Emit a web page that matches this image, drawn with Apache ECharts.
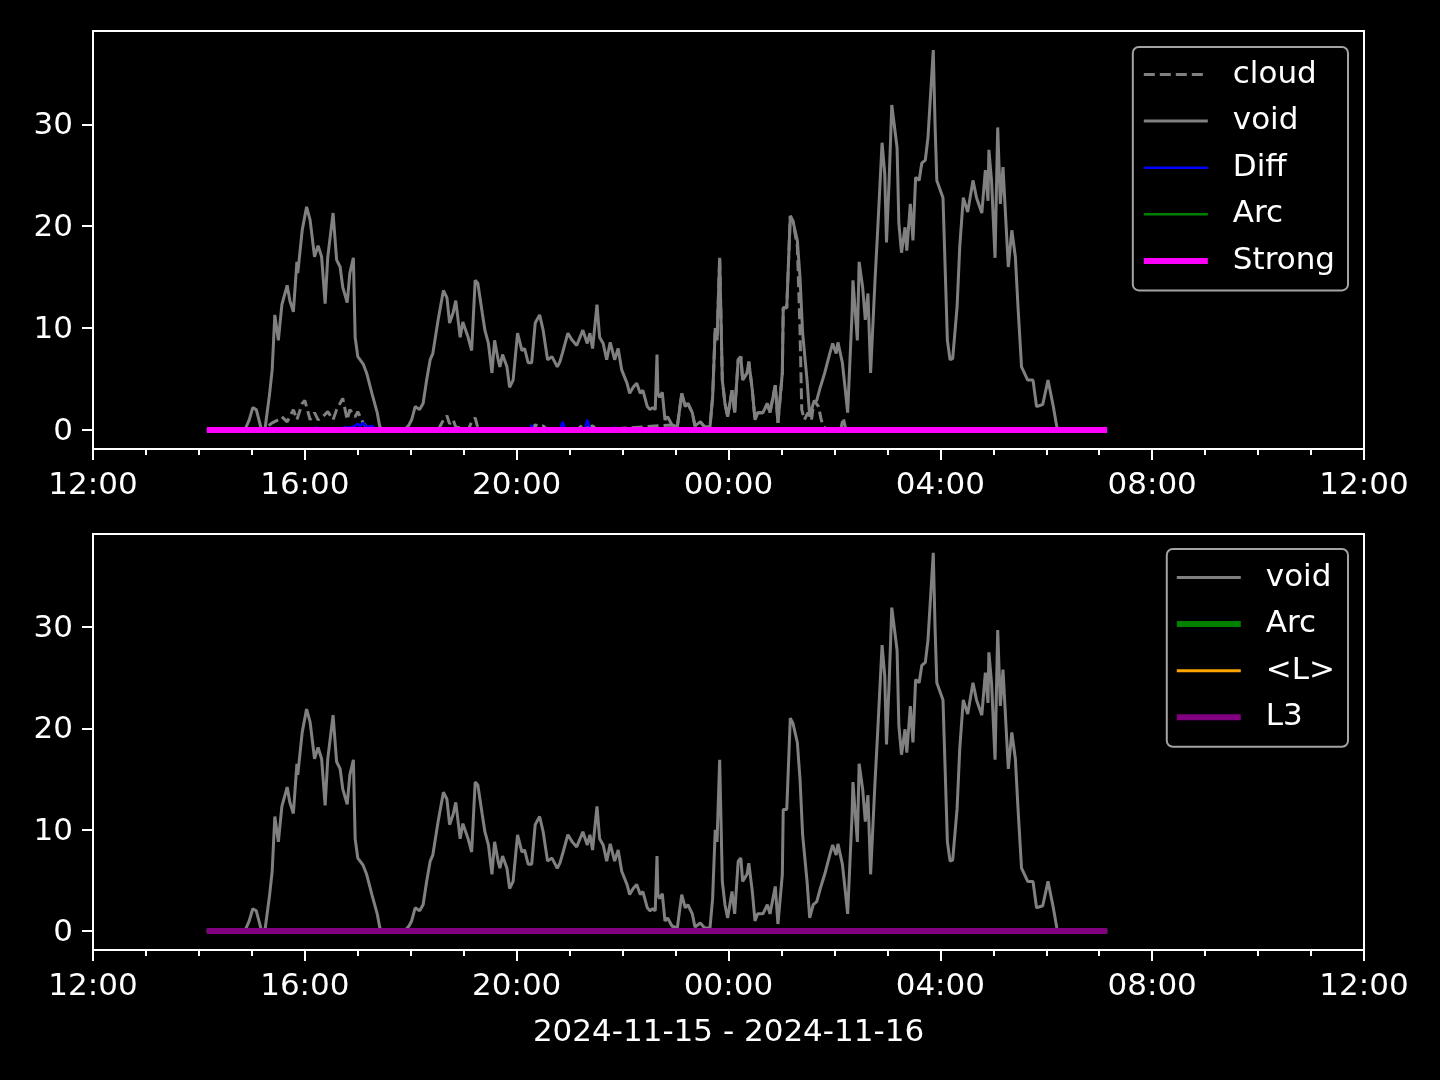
<!DOCTYPE html>
<html><head><meta charset="utf-8">
<script src="https://cdn.jsdelivr.net/npm/echarts@6/dist/echarts.min.js"></script>
<style>html,body{margin:0;padding:0;background:#000}#c{width:1440px;height:1080px}</style>
</head><body><div id="c"></div>
<script>
// ---- data (times are HH:MM; 12:00-23:59 -> 2024-11-15, 00:00-11:59 -> 2024-11-16, UTC) ----
const voidTimes = ['14:09','14:52','14:57','15:01','15:05','15:08','15:11','15:15','15:20','15:23','15:26','15:30','15:34','15:40','15:43','15:47','15:51','15:52','15:57','16:02','16:06','16:11','16:15','16:19','16:23','16:26','16:32','16:36','16:40','16:43','16:48','16:51','16:55','16:57','17:00','17:06','17:10','17:16','17:22','17:25','17:29','17:53','17:58','18:01','18:05','18:10','18:14','18:18','18:22','18:25','18:31','18:37','18:41','18:44','18:48','18:51','18:56','18:59','19:05','19:09','19:13','19:16','19:21','19:24','19:28','19:32','19:35','19:39','19:41','19:44','19:49','19:52','19:56','20:01','20:06','20:09','20:13','20:17','20:21','20:26','20:30','20:35','20:40','20:46','20:49','20:52','20:58','21:03','21:08','21:15','21:20','21:23','21:26','21:31','21:34','21:38','21:42','21:46','21:51','21:55','21:59','22:05','22:08','22:12','22:16','22:20','22:23','22:28','22:31','22:34','22:37','22:39','22:40','22:42','22:45','22:48','22:51','22:56','23:02','23:07','23:11','23:14','23:19','23:22','23:28','23:33','23:39','23:42','23:45','23:47','23:50','23:53','23:56','23:59','00:04','00:07','00:11','00:14','00:16','00:21','00:23','00:27','00:30','00:33','00:39','00:44','00:47','00:53','00:56','01:01','01:02','01:06','01:10','01:13','01:18','01:21','01:24','01:29','01:32','01:36','01:40','01:44','01:49','01:55','01:58','02:02','02:04','02:09','02:12','02:15','02:20','02:21','02:26','02:28','02:32','02:35','02:38','02:41','02:46','02:49','02:54','02:57','02:59','03:02','03:05','03:11','03:13','03:16','03:20','03:22','03:26','03:29','03:32','03:36','03:39','03:43','03:46','03:49','03:52','03:54','03:56','04:03','04:08','04:11','04:14','04:19','04:22','04:26','04:31','04:37','04:41','04:47','04:51','04:54','04:55','04:58','05:02','05:05','05:08','05:11','05:17','05:21','05:25','05:28','05:32','05:39','05:45','05:49','05:56','06:02','06:08','06:12','06:13'];
const voidValues = [0,0,1.0,2.2,2.0,1.0,0,0.2,3.5,5.9,11.3,8.8,12.3,14.2,12.7,11.6,16.5,15.4,19.6,21.9,20.6,17.0,18.1,17.0,12.4,17.0,21.3,16.7,16.0,14.0,12.5,15.4,16.9,9.1,7.2,6.5,5.6,3.6,1.7,0.3,0,0,0.5,1.0,2.3,2.0,2.6,4.9,6.9,7.5,10.8,13.7,13.0,10.5,11.5,12.7,9.1,10.6,9.1,7.8,14.7,14.4,11.5,9.8,8.5,5.6,8.8,6.9,6.2,7.4,6.2,4.2,4.9,9.5,7.8,8.0,6.6,6.6,10.5,11.3,9.8,6.9,7.2,6.2,6.7,7.6,9.5,8.8,8.3,9.8,8.5,9.5,8.0,12.3,9.1,8.5,6.9,8.6,6.9,8.0,5.9,4.6,3.6,4.2,4.6,3.6,3.9,2.3,2.0,2.2,2.0,7.4,3.6,3.2,3.7,1.0,1.3,0.5,0.3,3.6,2.3,2.6,1.7,0.4,0.8,0.3,0.3,3.2,10.0,8.8,16.9,4.9,2.6,1.3,3.9,1.7,6.9,7.2,4.9,5.6,6.7,3.9,1.0,1.7,1.7,2.6,1.7,4.4,0.7,5.6,12.0,12.0,21.0,20.5,18.6,15.0,9.5,4.9,1.3,2.6,2.9,4.2,5.6,7.6,8.5,7.5,8.6,6.6,4.2,1.7,11.5,14.7,8.8,16.5,14.0,10.8,13.4,5.6,14.7,19.6,28.2,25.2,18.4,24.5,31.9,27.7,20.3,17.4,19.9,17.6,22.2,18.6,24.8,24.5,26.2,26.5,28.7,33.0,37.3,30.0,24.5,22.8,8.8,6.9,7.0,12.1,18.0,22.8,21.4,24.5,22.8,21.3,25.5,22.5,27.5,24.5,16.9,29.7,22.2,25.8,16.0,19.6,17.0,12.1,6.2,4.9,4.9,2.3,2.5,4.9,2.3,0.3,0];

const cloudTimes = ['14:09','15:15','15:20','15:23','15:30','15:34','15:40','15:47','15:51','15:57','16:00','16:06','16:11','16:15','16:19','16:26','16:32','16:36','16:43','16:48','16:51','16:57','17:00','17:06','17:10','17:22','18:31','18:37','18:41','18:44','18:48','18:51','19:05','19:09','19:13','19:16','19:21','20:17','20:21','20:26','20:30','20:35','21:08','21:15','21:20','21:26','21:31','22:56','23:02','23:07','23:11','23:14','23:19','23:22','23:28','23:33','23:39','23:42','23:45','23:47','23:50','23:53','23:56','23:59','00:04','00:07','00:11','00:14','00:16','00:21','00:23','00:27','00:30','00:33','00:39','00:44','00:47','00:53','00:56','01:01','01:02','01:06','01:10','01:13','01:18','01:21','01:23','01:26','01:30','01:34','01:37','01:42','01:45','01:48','01:52','02:07','02:09','02:10','02:13','06:13'];
const cloudValues = [0,0,0.5,0.7,1.0,1.3,0.8,2.0,1.0,2.6,2.9,1.0,1.7,1.0,1.2,1.8,1.0,2.0,3.1,1.0,2.0,1.3,1.8,0.7,0.3,0,0,1.0,1.4,0.6,1.0,0.3,0,0.8,1.2,0.2,0,0,0.5,0.3,0.4,0,0,0.5,0.2,0.4,0,0.5,0.3,3.6,2.3,2.6,1.7,0.4,0.8,0.3,0.3,3.2,10.0,8.8,16.9,4.9,2.6,1.3,3.9,1.7,6.9,7.2,4.9,5.6,6.7,3.9,1.0,1.7,1.7,2.6,1.7,4.4,0.7,5.6,12.0,12.0,21.0,20.5,18.0,9.8,2.0,1.0,1.7,1.0,2.9,2.3,1.0,0.3,0,0,0.8,1.2,0,0];

const diffTimes = ['14:09','16:11','16:13','16:15','16:43','16:45','16:51','16:57','17:00','17:03','17:06','17:10','17:16','17:22','20:15','20:17','20:19','20:49','20:52','20:55','21:17','21:20','21:23','21:26','21:49','21:51','21:53','07:09'];
const diffValues = [0,0,0.3,0,0,0.3,0.2,0.4,0.6,0.4,0.7,0.3,0.4,0,0,0.5,0,0,0.8,0,0,1.0,0.2,0,0,0.3,0,0];

const flatTimes = ['14:09','07:09'];
const arcValues = [0,0];
const strongValues = [0,0];
const lMeanValues = [0,0];
const l3Values = [0,0];

const yTicks = [0,10,20,30];
const xTitle = '2024-11-15 - 2024-11-16';

// ---- helpers ----
function ts(hm){ const p = hm.split(':').map(Number); const day = p[0] < 12 ? 16 : 15; return Date.UTC(2024,10,day,p[0],p[1]||0); }
function pairs(times, vals){ return times.map((t,i)=>[ts(t), vals[i]]); }
const HOUR = 3600000;
const xMin = Date.UTC(2024,10,15,12,0), xMax = Date.UTC(2024,10,16,12,0);
const FONT = 'DejaVu Sans';
const FS = 31;
function hhmm(v){ const d = new Date(v); return String(d.getUTCHours()).padStart(2,'0') + ':' + String(d.getUTCMinutes()).padStart(2,'0'); }

function xAxisDef(gi, withName){
  return {
    type:'value', gridIndex:gi, min:xMin, max:xMax, interval:4*HOUR,
    axisLine:{show:true, onZero:false, lineStyle:{color:'#fff', width:2}},
    axisTick:{show:true, inside:false, length:11, lineStyle:{color:'#fff', width:2}},
    minorTick:{show:true, splitNumber:4, length:6, lineStyle:{color:'#fff', width:2}},
    axisLabel:{show:true, color:'#fff', fontFamily:FONT, fontSize:FS, margin:21, formatter:hhmm, showMinLabel:true, showMaxLabel:true},
    splitLine:{show:false}, minorSplitLine:{show:false},
    name: withName ? xTitle : '', nameLocation:'middle', nameGap:67,
    nameTextStyle:{color:'#fff', fontFamily:FONT, fontSize:FS}
  };
}
function yAxisDef(gi){
  return {
    type:'value', gridIndex:gi, min:-1.865, max:39.165,
    axisLine:{show:true, onZero:false, lineStyle:{color:'#fff', width:2}},
    axisTick:{show:true, inside:false, length:11, lineStyle:{color:'#fff', width:2}, customValues:yTicks},
    axisLabel:{show:true, color:'#fff', fontFamily:FONT, fontSize:FS, margin:20, customValues:yTicks,
      formatter: v => '{t|' + v + '}',
      rich:{t:{color:'#fff', fontFamily:FONT, fontSize:FS, padding:[4,0,0,0]}}},
    splitLine:{show:false}
  };
}
function line(name, xi, yi, data, color, width, type){
  return {name, type:'line', xAxisIndex:xi, yAxisIndex:yi, data, symbol:'none', showSymbol:false,
    lineStyle:{color, width, type:type||'solid'}, itemStyle:{color}, animation:false, silent:true, z:2};
}
const legendCommon = {
  orient:'vertical', backgroundColor:'rgba(0,0,0,0.8)', borderColor:'#a3a3a3', borderWidth:2, borderRadius:6,
  itemWidth:64, itemHeight:31, itemGap:15.6, selectedMode:false,
  textStyle:{color:'#fff', fontFamily:FONT, fontSize:FS, lineHeight:31, padding:[0,0,0,20]},
  lineStyle:{width:'inherit', type:'inherit'},
  itemStyle:{opacity:0, borderWidth:0},
  formatter: n => n.replace(/_2$/, '')
};

const option = {
  backgroundColor:'#000',
  animation:false,
  grid:[
    {left:93, top:31, width:1271, height:418, show:true, borderColor:'#fff', borderWidth:2, backgroundColor:'transparent'},
    {left:93, top:534, width:1271, height:416, show:true, borderColor:'#fff', borderWidth:2, backgroundColor:'transparent'}
  ],
  xAxis:[xAxisDef(0,false), xAxisDef(1,true)],
  yAxis:[yAxisDef(0), yAxisDef(1)],
  legend:[
    Object.assign({}, legendCommon, {right:92, top:47, padding:[12,13,14,8], data:['cloud','void','Diff','Arc','Strong']}),
    Object.assign({}, legendCommon, {right:92, top:549, padding:[13,13,14,7], data:['void_2','Arc_2','<L>_2','L3_2']})
  ],
  series:[
    line('cloud',0,0,pairs(cloudTimes,cloudValues),'#808080',3,[11,5]),
    line('void',0,0,pairs(voidTimes,voidValues),'#808080',3),
    line('Diff',0,0,pairs(diffTimes,diffValues),'#0000ff',2.5),
    line('Arc',0,0,pairs(flatTimes,arcValues),'#008000',2.5),
    line('Strong',0,0,pairs(flatTimes,strongValues),'#ff00ff',6),
    line('void_2',1,1,pairs(voidTimes,voidValues),'#808080',3),
    line('Arc_2',1,1,pairs(flatTimes,arcValues),'#008000',6),
    line('<L>_2',1,1,pairs(flatTimes,lMeanValues),'#ffa500',3),
    line('L3_2',1,1,pairs(flatTimes,l3Values),'#800080',6)
  ]
};
const chart = echarts.init(document.getElementById('c'), null, {renderer:'canvas'});
chart.setOption(option);
</script></body></html>
